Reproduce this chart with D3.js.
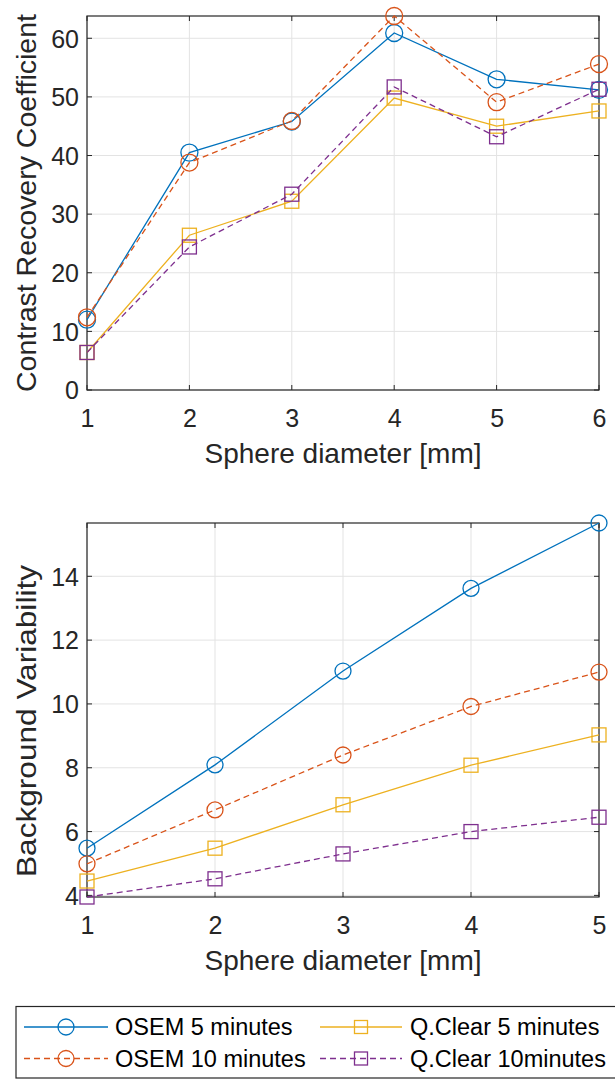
<!DOCTYPE html>
<html>
<head>
<meta charset="utf-8">
<script src="https://cdn.jsdelivr.net/npm/d3@7"></script>
<style>
  html, body { margin: 0; padding: 0; background: #fff; }
  svg { display: block; font-family: "Liberation Sans", Arial, Helvetica, sans-serif; }
</style>
</head>
<body>
<svg id="chart" width="615" height="1079"></svg>
<script>
// ---- Data ----
const xTop = [1, 2, 3, 4, 5, 6];
const osem5Top  = [12.0, 40.5, 45.8, 60.9, 53.0, 51.2];
const osem10Top = [12.4, 38.8, 45.9, 63.8, 49.1, 55.6];
const qc5Top    = [6.4, 26.4, 32.2, 49.8, 45.0, 47.6];
const qc10Top   = [6.4, 24.4, 33.4, 51.7, 43.2, 51.3];
const yTicksTop = [0, 10, 20, 30, 40, 50, 60];

const xBot = [1, 2, 3, 4, 5];
const osem5Bot  = [5.48, 8.09, 11.03, 13.62, 15.67];
const osem10Bot = [4.99, 6.68, 8.40, 9.92, 11.00];
const qc5Bot    = [4.45, 5.48, 6.84, 8.08, 9.03];
const qc10Bot   = [3.95, 4.52, 5.30, 6.00, 6.45];
const yTicksBot = [4, 6, 8, 10, 12, 14];

const seriesNames = ["OSEM 5 minutes", "OSEM 10 minutes", "Q.Clear 5 minutes", "Q.Clear 10minutes"];
const seriesColors = ["#0072BD", "#D95319", "#EDB120", "#7E2F8E"];
const seriesDash = [null, "6,4", null, "6,4"];
const seriesMarker = ["circle", "circle", "square", "square"];

const xLabel = "Sphere diameter [mm]";
const yLabelTop = "Contrast Recovery Coefficient";
const yLabelBot = "Background Variability";

// ---- Drawing ----
const svg = d3.select("#chart");
const axisColor = "#262626";
const gridColor = "#e3e3e3";

function drawMarker(g, type, cx, cy, color, r, s) {
  if (type === "circle") {
    g.append("circle").attr("cx", cx).attr("cy", cy).attr("r", r)
      .attr("fill", "none").attr("stroke", color).attr("stroke-width", 1.3);
  } else {
    g.append("rect").attr("x", cx - s / 2).attr("y", cy - s / 2)
      .attr("width", s).attr("height", s)
      .attr("fill", "none").attr("stroke", color).attr("stroke-width", 1.3);
  }
}

function panel(box, xs, seriesList, yDomain, yTicks, yLabel, yLabelCenter, yLabelLen, r, s) {
  const x = d3.scaleLinear().domain(d3.extent(xs)).range([box.left, box.right]);
  const y = d3.scaleLinear().domain(yDomain).range([box.bottom, box.top]);
  const g = svg.append("g");

  // grid
  g.selectAll(".gx").data(xs).enter().append("line")
    .attr("x1", d => x(d)).attr("x2", d => x(d))
    .attr("y1", box.top).attr("y2", box.bottom)
    .attr("stroke", gridColor).attr("stroke-width", 1);
  g.selectAll(".gy").data(yTicks).enter().append("line")
    .attr("x1", box.left).attr("x2", box.right)
    .attr("y1", d => y(d)).attr("y2", d => y(d))
    .attr("stroke", gridColor).attr("stroke-width", 1);

  // axes
  const tl = 5;
  const axB = d3.axisBottom(x).tickValues(xs).tickSize(0).tickFormat(d3.format("d"));
  const gb = g.append("g").attr("transform", `translate(0,${box.bottom})`).call(axB);
  gb.select(".domain").remove();
  gb.selectAll("text").attr("font-size", 25).attr("fill", axisColor).attr("dy", null).attr("y", 37);

  const axL = d3.axisLeft(y).tickValues(yTicks).tickSize(0).tickFormat(d3.format("d"));
  const gl = g.append("g").attr("transform", `translate(${box.left},0)`).call(axL);
  gl.select(".domain").remove();
  gl.selectAll("text").attr("font-size", 25).attr("fill", axisColor).attr("x", -8).attr("dy", "0.35em");

  // inward tick marks on all sides
  xs.forEach(v => {
    g.append("line").attr("x1", x(v)).attr("x2", x(v)).attr("y1", box.bottom).attr("y2", box.bottom - tl).attr("stroke", axisColor);
    g.append("line").attr("x1", x(v)).attr("x2", x(v)).attr("y1", box.top).attr("y2", box.top + tl).attr("stroke", axisColor);
  });
  yTicks.forEach(v => {
    g.append("line").attr("x1", box.left).attr("x2", box.left + tl).attr("y1", y(v)).attr("y2", y(v)).attr("stroke", axisColor);
    g.append("line").attr("x1", box.right).attr("x2", box.right - tl).attr("y1", y(v)).attr("y2", y(v)).attr("stroke", axisColor);
  });
  g.append("rect").attr("x", box.left).attr("y", box.top)
    .attr("width", box.right - box.left).attr("height", box.bottom - box.top)
    .attr("fill", "none").attr("stroke", axisColor).attr("stroke-width", 1.2);

  // labels
  g.append("text").attr("x", (box.left + box.right) / 2).attr("y", box.bottom + 73)
    .attr("text-anchor", "middle").attr("font-size", 28).attr("fill", axisColor).text(xLabel);
  g.append("text").attr("transform", `translate(36,${yLabelCenter}) rotate(-90)`)
    .attr("text-anchor", "middle").attr("font-size", 28).attr("fill", axisColor)
    .attr("textLength", yLabelLen).attr("lengthAdjust", "spacingAndGlyphs").text(yLabel);

  // series
  const line = d3.line().x(d => x(d[0])).y(d => y(d[1]));
  seriesList.forEach((vals, i) => {
    const pts = xs.map((xv, j) => [xv, vals[j]]);
    g.append("path").attr("d", line(pts)).attr("fill", "none")
      .attr("stroke", seriesColors[i]).attr("stroke-width", 1.3)
      .attr("stroke-dasharray", seriesDash[i]);
    pts.forEach(p => drawMarker(g, seriesMarker[i], x(p[0]), y(p[1]), seriesColors[i], r, s));
  });
}

const topAll = [osem5Top, osem10Top, qc5Top, qc10Top];
panel({left: 87, right: 599, top: 16, bottom: 390}, xTop,
  topAll, [0, d3.max(topAll.flat())], yTicksTop, yLabelTop, 203, 378, 8.5, 14);

const botAll = [osem5Bot, osem10Bot, qc5Bot, qc10Bot];
panel({left: 87, right: 599, top: 523, bottom: 897}, xBot,
  botAll, d3.extent(botAll.flat()), yTicksBot, yLabelBot, 721, 312, 8, 14);

// ---- Legend ----
const lg = svg.append("g");
lg.append("rect").attr("x", 16).attr("y", 1006.5).attr("width", 640).attr("height", 71.5)
  .attr("fill", "#fff").attr("stroke", axisColor).attr("stroke-width", 1.2);
const cols = [{x0: 24, x1: 108, tx: 115}, {x0: 320, x1: 402, tx: 410}];
const rows = [1027, 1058.5];
seriesNames.forEach((name, i) => {
  const c = cols[Math.floor(i / 2)], ry = rows[i % 2];
  lg.append("line").attr("x1", c.x0).attr("x2", c.x1).attr("y1", ry).attr("y2", ry)
    .attr("stroke", seriesColors[i]).attr("stroke-width", 1.3).attr("stroke-dasharray", seriesDash[i]);
  drawMarker(lg, seriesMarker[i], (c.x0 + c.x1) / 2, ry, seriesColors[i], 8, 13);
  lg.append("text").attr("x", c.tx).attr("y", ry).attr("dy", "0.35em")
    .attr("font-size", 23.5).attr("fill", "#000").text(name);
});
</script>
</body>
</html>
